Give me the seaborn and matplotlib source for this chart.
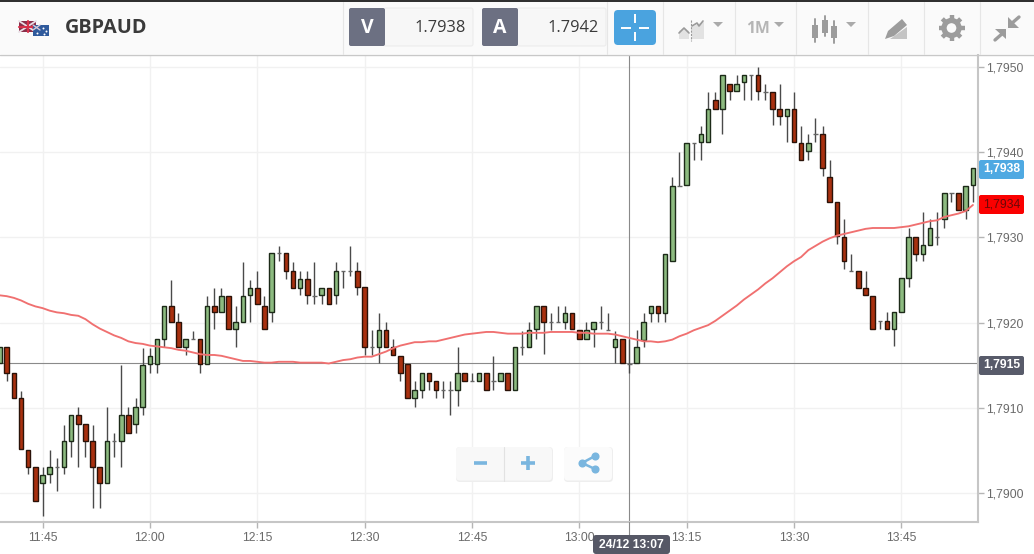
import numpy as np
import pandas as pd
import matplotlib
matplotlib.use("Agg")
import matplotlib.pyplot as plt
import seaborn as sns
from matplotlib.patches import Rectangle, FancyBboxPatch, Circle, Polygon

# candles, one per minute, minute 0 is 11:45
first_minute = -6
opens = [
    1.79152, 1.79171, 1.79141, 1.79112, 1.79051, 1.79031, 1.79012, 1.79022, 1.79031, 1.79031,
    1.79061, 1.79091, 1.79081, 1.79061, 1.79031, 1.79012, 1.79061, 1.79061, 1.79091, 1.79081,
    1.79101, 1.79151, 1.79151, 1.79181, 1.79220, 1.79201, 1.79171, 1.79181, 1.79181, 1.79151,
    1.79220, 1.79212, 1.79231, 1.79192, 1.79201, 1.79232, 1.79241, 1.79220, 1.79212, 1.79282,
    1.79282, 1.79260, 1.79241, 1.79251, 1.79231, 1.79232, 1.79241, 1.79232, 1.79261, 1.79261,
    1.79260, 1.79242, 1.79171, 1.79171, 1.79191, 1.79171, 1.79161, 1.79151, 1.79112, 1.79121,
    1.79141, 1.79131, 1.79121, 1.79121, 1.79121, 1.79141, 1.79131, 1.79131, 1.79141, 1.79131,
    1.79131, 1.79141, 1.79121, 1.79171, 1.79171, 1.79192, 1.79220, 1.79201, 1.79201, 1.79201,
    1.79211, 1.79191, 1.79181, 1.79192, 1.79201, 1.79191, 1.79171, 1.79181, 1.79151, 1.79152,
    1.79180, 1.79211, 1.79220, 1.79211, 1.79272, 1.79360, 1.79361, 1.79411, 1.79412, 1.79412,
    1.79461, 1.79451, 1.79480, 1.79472, 1.79482, 1.79491, 1.79491, 1.79471, 1.79471, 1.79451,
    1.79442, 1.79451, 1.79411, 1.79401, 1.79421, 1.79421, 1.79371, 1.79341, 1.79301, 1.79261,
    1.79261, 1.79241, 1.79231, 1.79202, 1.79202, 1.79192, 1.79212, 1.79252, 1.79301, 1.79281,
    1.79291, 1.79301, 1.79321, 1.79352, 1.79352, 1.79332, 1.79361,
]
highs = [
    1.79171, 1.79171, 1.79141, 1.79120, 1.79051, 1.79031, 1.79031, 1.79051, 1.79041, 1.79080,
    1.79091, 1.79101, 1.79081, 1.79080, 1.79031, 1.79101, 1.79071, 1.79150, 1.79101, 1.79111,
    1.79170, 1.79170, 1.79181, 1.79220, 1.79250, 1.79211, 1.79181, 1.79190, 1.79181, 1.79231,
    1.79241, 1.79241, 1.79231, 1.79220, 1.79271, 1.79250, 1.79260, 1.79231, 1.79282, 1.79290,
    1.79282, 1.79271, 1.79260, 1.79260, 1.79271, 1.79241, 1.79241, 1.79271, 1.79261, 1.79290,
    1.79271, 1.79242, 1.79191, 1.79211, 1.79201, 1.79181, 1.79161, 1.79151, 1.79131, 1.79141,
    1.79141, 1.79131, 1.79131, 1.79131, 1.79171, 1.79141, 1.79141, 1.79141, 1.79141, 1.79161,
    1.79141, 1.79141, 1.79171, 1.79190, 1.79201, 1.79220, 1.79220, 1.79211, 1.79220, 1.79220,
    1.79211, 1.79191, 1.79201, 1.79201, 1.79220, 1.79211, 1.79190, 1.79181, 1.79181, 1.79191,
    1.79211, 1.79220, 1.79220, 1.79281, 1.79371, 1.79400, 1.79411, 1.79411, 1.79431, 1.79471,
    1.79471, 1.79491, 1.79480, 1.79491, 1.79491, 1.79491, 1.79500, 1.79480, 1.79471, 1.79480,
    1.79451, 1.79471, 1.79431, 1.79421, 1.79440, 1.79431, 1.79391, 1.79341, 1.79321, 1.79281,
    1.79261, 1.79261, 1.79231, 1.79202, 1.79212, 1.79212, 1.79252, 1.79311, 1.79301, 1.79330,
    1.79321, 1.79330, 1.79352, 1.79352, 1.79352, 1.79360, 1.79381,
]
lows = [
    1.79152, 1.79131, 1.79112, 1.79052, 1.79022, 1.78991, 1.78973, 1.79012, 1.79002, 1.79022,
    1.79042, 1.79031, 1.79042, 1.78982, 1.78982, 1.79012, 1.79042, 1.79031, 1.79071, 1.79071,
    1.79092, 1.79141, 1.79141, 1.79171, 1.79201, 1.79171, 1.79162, 1.79181, 1.79141, 1.79151,
    1.79192, 1.79212, 1.79192, 1.79171, 1.79201, 1.79201, 1.79222, 1.79192, 1.79201, 1.79272,
    1.79251, 1.79241, 1.79232, 1.79222, 1.79222, 1.79222, 1.79222, 1.79222, 1.79241, 1.79255,
    1.79232, 1.79162, 1.79162, 1.79152, 1.79171, 1.79162, 1.79131, 1.79112, 1.79101, 1.79112,
    1.79121, 1.79112, 1.79112, 1.79092, 1.79102, 1.79131, 1.79131, 1.79131, 1.79121, 1.79121,
    1.79131, 1.79121, 1.79121, 1.79162, 1.79171, 1.79181, 1.79163, 1.79191, 1.79201, 1.79192,
    1.79192, 1.79191, 1.79181, 1.79171, 1.79192, 1.79191, 1.79152, 1.79152, 1.79141, 1.79152,
    1.79171, 1.79201, 1.79201, 1.79201, 1.79272, 1.79360, 1.79361, 1.79391, 1.79391, 1.79412,
    1.79451, 1.79421, 1.79461, 1.79472, 1.79461, 1.79461, 1.79461, 1.79461, 1.79432, 1.79432,
    1.79412, 1.79412, 1.79391, 1.79391, 1.79412, 1.79372, 1.79342, 1.79292, 1.79263, 1.79261,
    1.79241, 1.79232, 1.79192, 1.79192, 1.79192, 1.79172, 1.79212, 1.79242, 1.79272, 1.79272,
    1.79291, 1.79291, 1.79311, 1.79342, 1.79332, 1.79322, 1.79342,
]
closes = [
    1.79171, 1.79141, 1.79112, 1.79052, 1.79031, 1.78991, 1.79021, 1.79031, 1.79031, 1.79061,
    1.79091, 1.79081, 1.79061, 1.79031, 1.79012, 1.79061, 1.79061, 1.79091, 1.79071, 1.79101,
    1.79150, 1.79161, 1.79181, 1.79220, 1.79201, 1.79171, 1.79181, 1.79181, 1.79151, 1.79220,
    1.79212, 1.79231, 1.79192, 1.79201, 1.79231, 1.79241, 1.79222, 1.79192, 1.79282, 1.79282,
    1.79261, 1.79241, 1.79251, 1.79232, 1.79231, 1.79241, 1.79222, 1.79260, 1.79261, 1.79261,
    1.79242, 1.79171, 1.79171, 1.79191, 1.79171, 1.79162, 1.79141, 1.79112, 1.79121, 1.79141,
    1.79131, 1.79121, 1.79121, 1.79121, 1.79141, 1.79131, 1.79131, 1.79141, 1.79121, 1.79131,
    1.79141, 1.79121, 1.79171, 1.79171, 1.79191, 1.79220, 1.79201, 1.79201, 1.79201, 1.79211,
    1.79192, 1.79181, 1.79191, 1.79201, 1.79201, 1.79191, 1.79181, 1.79152, 1.79151, 1.79171,
    1.79201, 1.79220, 1.79211, 1.79281, 1.79360, 1.79360, 1.79411, 1.79411, 1.79421, 1.79451,
    1.79451, 1.79491, 1.79472, 1.79480, 1.79491, 1.79491, 1.79472, 1.79471, 1.79451, 1.79442,
    1.79451, 1.79412, 1.79391, 1.79411, 1.79421, 1.79381, 1.79342, 1.79302, 1.79272, 1.79261,
    1.79241, 1.79232, 1.79192, 1.79202, 1.79192, 1.79212, 1.79252, 1.79301, 1.79281, 1.79291,
    1.79311, 1.79301, 1.79352, 1.79352, 1.79332, 1.79360, 1.79381,
]

# moving average, one value per candle
ma_values = [
    1.79232, 1.79231, 1.79229, 1.79226, 1.79222, 1.79219, 1.79217, 1.79214, 1.79212, 1.79211,
    1.79209, 1.79208, 1.79204, 1.79198, 1.79193, 1.79189, 1.79185, 1.79182, 1.79178, 1.79176,
    1.79175, 1.79173, 1.79172, 1.79171, 1.79170, 1.79168, 1.79167, 1.79165, 1.79163, 1.79162,
    1.79162, 1.79161, 1.79159, 1.79157, 1.79155, 1.79155, 1.79154, 1.79153, 1.79153, 1.79154,
    1.79154, 1.79154, 1.79153, 1.79153, 1.79153, 1.79153, 1.79152, 1.79154, 1.79156, 1.79157,
    1.79159, 1.79160, 1.79160, 1.79163, 1.79166, 1.79170, 1.79173, 1.79175, 1.79177, 1.79177,
    1.79178, 1.79178, 1.79180, 1.79182, 1.79184, 1.79186, 1.79187, 1.79188, 1.79189, 1.79189,
    1.79188, 1.79187, 1.79187, 1.79187, 1.79188, 1.79188, 1.79188, 1.79189, 1.79189, 1.79189,
    1.79189, 1.79188, 1.79188, 1.79187, 1.79187, 1.79187, 1.79186, 1.79184, 1.79182, 1.79180,
    1.79178, 1.79178, 1.79177, 1.79178, 1.79180, 1.79184, 1.79187, 1.79191, 1.79194, 1.79197,
    1.79202, 1.79208, 1.79214, 1.79220, 1.79227, 1.79233, 1.79239, 1.79246, 1.79252, 1.79259,
    1.79266, 1.79272, 1.79277, 1.79285, 1.79290, 1.79295, 1.79299, 1.79302, 1.79304, 1.79306,
    1.79308, 1.79310, 1.79311, 1.79311, 1.79311, 1.79311, 1.79312, 1.79313, 1.79315, 1.79317,
    1.79319, 1.79320, 1.79324, 1.79326, 1.79328, 1.79331, 1.79338,
]

x_ticks = [0, 15, 30, 45, 60, 75, 90, 105, 120]
x_labels = ["11:45", "12:00", "12:15", "12:30", "12:45", "13:00", "13:15", "13:30", "13:45"]
y_ticks = [1.7900, 1.7910, 1.7920, 1.7930, 1.7940, 1.7950]
y_labels = ["1,7900", "1,7910", "1,7920", "1,7930", "1,7940", "1,7950"]

bid_price = 1.7938
ask_price = 1.7942
ma_last = 1.7934
cross_price = 1.79152
cross_minute = 82

sns.set_theme(style="white")
plt.rcParams["font.family"] = ["Liberation Sans", "DejaVu Sans"]

df = pd.DataFrame({"open": opens, "high": highs, "low": lows, "close": closes, "ma": ma_values})
df["minute"] = np.arange(len(df)) + first_minute

W, H = 1034, 554
fig = plt.figure(figsize=(W / 100, H / 100), dpi=100, facecolor="white")
ax = fig.add_axes([0, (H - 522) / H, 978 / W, (522 - 55) / H])

GREEN = "#8dbb80"
RED = "#a8300f"

# wicks, bodies and the flat candles
ax.vlines(df["minute"], df["low"], df["high"], color="#4a4a4a", lw=1.0, zorder=3)
flat = df["open"] == df["close"]
up = (df["close"] > df["open"]) & ~flat
down = (df["close"] < df["open"]) & ~flat
ax.bar(df["minute"][up], (df["close"] - df["open"])[up], bottom=df["open"][up], width=0.64,
       color=GREEN, edgecolor="#1c2a18", linewidth=1.0, zorder=4)
ax.bar(df["minute"][down], (df["open"] - df["close"])[down], bottom=df["close"][down], width=0.64,
       color=RED, edgecolor="#2a1208", linewidth=1.0, zorder=4)
ax.hlines(df["close"][flat], df["minute"][flat] - 0.3, df["minute"][flat] + 0.3,
          color="#666666", lw=1.0, zorder=4)

sns.lineplot(data=df, x="minute", y="ma", ax=ax, color="#f07070", lw=1.35, zorder=5)

ax.axhline(cross_price, color="#8a8a8a", lw=0.8, zorder=2)
ax.axvline(cross_minute, color="#8a8a8a", lw=0.8, zorder=2)

ax.set_xlim(-5.94, 130.71)
ax.set_ylim(1.78966, 1.79514)
ax.set_xticks(x_ticks)
ax.set_xticklabels(x_labels)
ax.set_yticks(y_ticks)
ax.set_yticklabels(y_labels)
ax.yaxis.tick_right()
ax.set_xlabel("")
ax.set_ylabel("")
ax.grid(True, color="#f1f1f1", lw=1.0, zorder=0)
ax.set_axisbelow(True)
ax.tick_params(axis="both", length=4, width=1, color="#b5b5b5", labelcolor="#6a6a6a",
               labelsize=8.7, bottom=True, right=True)
ax.tick_params(axis="y", pad=1.5)
ax.tick_params(axis="x", pad=3)
for side in ["top", "left"]:
    ax.spines[side].set_visible(False)
for side in ["right", "bottom"]:
    ax.spines[side].set_color("#c6c6c6")
    ax.spines[side].set_linewidth(1.5)

# everything around the chart, in pixel coordinates
ui = fig.add_axes([0, 0, 1, 1], zorder=10)
ui.set_xlim(0, W)
ui.set_ylim(H, 0)
ui.axis("off")
ui.patch.set_alpha(0)

ui.add_patch(Rectangle((0, 0), W, 54, fc="#fafafa", ec="none"))
ui.add_patch(Rectangle((0, 0), W, 2, fc="#303030", ec="none"))
ui.plot([0, W], [54.5, 54.5], color="#c8c8c8", lw=1)
for sx in [342.5, 606.5, 662.5, 734.5, 795.5, 867.5, 923.5, 979.5]:
    ui.plot([sx, sx], [2, 54], color="#e6e6e6", lw=0.8)


def box(x0, y0, w, h, color, r=2, z=11, edge="none"):
    ui.add_patch(FancyBboxPatch((x0 + r, y0 + r), w - 2 * r, h - 2 * r,
                                boxstyle=f"round,pad={r},rounding_size={r}",
                                fc=color, ec=edge, lw=0.8, zorder=z))


# flags
ui.add_patch(Rectangle((19, 21), 17, 11, fc="#8a2f4a", ec="none", zorder=11))
ui.plot([19, 36], [21, 32], color="#e8dfe6", lw=1.3, zorder=11)
ui.plot([19, 36], [32, 21], color="#e8dfe6", lw=1.3, zorder=11)
ui.plot([27.5, 27.5], [21, 32], color="#d8304a", lw=1.5, zorder=11)
ui.plot([19, 36], [26.5, 26.5], color="#d8304a", lw=1.5, zorder=11)
ui.add_patch(Rectangle((33, 25), 16, 11, fc="#2f5a9c", ec="none", zorder=12))
ui.plot([33, 40], [25, 30], color="#d9c8d4", lw=1, zorder=12)
ui.plot([33, 40], [30, 25], color="#d9c8d4", lw=1, zorder=12)
ui.scatter([37, 43, 46, 44], [33, 28, 31, 34], s=2, color="white", zorder=12, lw=0)

ui.text(65, 28, "GBPAUD", fontsize=14.3, fontweight="bold", color="#3a3a3a", family="Open Sans",
        va="center", ha="left", zorder=12)

# bid / ask boxes
box(384, 8, 89, 38, "#f7f7f7", edge="#ececec")
box(349, 8, 36, 38, "#6c7082")
ui.text(367, 28, "V", fontsize=14, fontweight="bold", color="white", family="Open Sans",
        ha="center", va="center", zorder=12)
ui.text(465.5, 27.5, f"{bid_price:.4f}", fontsize=11.8, color="#3a3a3a", family="Open Sans",
        ha="right", va="center", zorder=12)
box(517, 8, 89, 38, "#f7f7f7", edge="#ececec")
box(482, 8, 36, 38, "#6c7082")
ui.text(500, 28, "A", fontsize=14, fontweight="bold", color="white", family="Open Sans",
        ha="center", va="center", zorder=12)
ui.text(598.5, 27.5, f"{ask_price:.4f}", fontsize=11.8, color="#3a3a3a", family="Open Sans",
        ha="right", va="center", zorder=12)

# crosshair button
box(614, 10, 42, 35, "#4aa3df", r=4)
for xs, ys in [([621, 631], [27.5, 27.5]), ([639, 649], [27.5, 27.5]),
               ([635, 635], [14, 23]), ([635, 635], [32, 41])]:
    ui.plot(xs, ys, color="white", lw=1.4, zorder=12, solid_capstyle="butt")

DARK_ICON = "#9c9c9c"


def caret(cx, cy, w=9, color="#aaaaaa"):
    ui.add_patch(Polygon([(cx - w / 2, cy - 2.5), (cx + w / 2, cy - 2.5), (cx, cy + 2.5)],
                         fc=color, ec="none", zorder=12))


# chart type icon
ui.add_patch(Polygon([(679, 39), (679, 31), (684, 28), (689, 31), (689, 39)], fc="#e2e2e2", ec="none", zorder=12))
ui.add_patch(Polygon([(692, 39), (692, 27), (698, 24), (704, 22), (704, 39)], fc="#e2e2e2", ec="none", zorder=12))
ui.plot([679, 684, 689], [33, 28, 33], color="#9a9a9a", lw=1.2, zorder=13)
ui.plot([692, 697, 699, 703], [26, 23, 26, 21], color="#9a9a9a", lw=1.2, zorder=13)
ui.plot([690.5, 690.5], [20, 41], color="#9a9a9a", lw=0.8, ls=(0, (2, 1)), zorder=13)
caret(718, 24.5, 10)

ui.text(746, 29, "1M", fontsize=11.3, fontweight="bold", color="#b5b5b5", family="Open Sans",
        ha="left", va="center", zorder=12)
caret(779, 24.5, 10)

# candle icon
for cx, top, bot, y0, y1 in [(815, 19, 42, 25, 38), (825, 16, 36, 20, 33), (834, 21, 43, 26, 38)]:
    ui.plot([cx, cx], [top, bot], color=DARK_ICON, lw=1.4, zorder=12)
    ui.add_patch(Rectangle((cx - 3, y0), 6, y1 - y0, fc=DARK_ICON, ec="none", zorder=12))
caret(851, 24.5, 10)

# drawing tool icon
ui.add_patch(Polygon([(890, 39), (907, 39), (907, 27)], fc="#c4c4c4", ec="none", zorder=12))
ui.add_patch(Polygon([(888, 31), (902, 19), (907, 25), (894, 36), (885, 39)], fc="#9c9c9c", ec="none", zorder=13))

# gear
ui.add_patch(Circle((951.5, 28), 7.5, fc="none", ec=DARK_ICON, lw=3.8, zorder=12))
for ang in np.arange(0, 360, 45):
    ca, sa = np.cos(np.radians(ang)), np.sin(np.radians(ang))
    ui.plot([951.5 + 8 * ca, 951.5 + 13 * ca], [28 + 8 * sa, 28 + 13 * sa], color=DARK_ICON,
            lw=3.2, zorder=12, solid_capstyle="butt")

# collapse arrows, both pointing at the middle
ui.add_patch(Polygon([(1008, 17), (1008, 28), (1019, 28)], fc=DARK_ICON, ec="none", zorder=12))
ui.plot([1011, 1019], [24, 17], color=DARK_ICON, lw=2.4, zorder=12)
ui.add_patch(Polygon([(995, 29), (1006, 29), (1006, 39)], fc=DARK_ICON, ec="none", zorder=12))
ui.plot([1003, 995], [33, 40], color=DARK_ICON, lw=2.4, zorder=12)

# price tags on the right
box(979, 160, 45, 19, "#4fa9e2")
ui.text(1001.5, 169.5, "1,7938", fontsize=8.7, fontweight="bold", color="white", ha="center", va="center", zorder=12)
box(979, 195, 45, 19, "#fa0000")
ui.text(1001.5, 204.5, f"{ma_last:.4f}".replace(".", ","), fontsize=8.7, color="#6b0808", ha="center", va="center", zorder=12)
box(979, 356, 45, 19, "#585b6a")
ui.text(1001.5, 365.5, "1,7915", fontsize=8.7, fontweight="bold", color="white", ha="center", va="center", zorder=12)

# zoom and share buttons
box(456, 447, 97, 35, "#eeeeee", r=4, z=11)
box(456, 447, 96, 33.5, "#f8f8f8", r=4, z=11)
box(564, 447, 49, 35, "#eeeeee", r=4, z=11)
box(564, 447, 48, 33.5, "#fbfbfb", r=4, z=11)
ui.plot([503.5, 503.5], [447, 481], color="#e2e2e2", lw=0.8, zorder=12)
ui.plot([474, 487], [463, 463], color="#7ab6df", lw=2.6, zorder=12, solid_capstyle="butt")
ui.plot([521, 535], [463, 463], color="#7ab6df", lw=2.6, zorder=12, solid_capstyle="butt")
ui.plot([528, 528], [456, 470], color="#7ab6df", lw=2.6, zorder=12, solid_capstyle="butt")
ui.plot([595, 582, 595], [456, 463, 469], color="#7ab6df", lw=1.8, zorder=12)
ui.scatter([595, 582, 595], [456, 463, 469], s=34, color="#7ab6df", zorder=13, lw=0)

# date tag under the crosshair
ui.plot([629.4, 629.4], [522, 535], color="#8a8a8a", lw=0.8, zorder=11)
box(593, 535, 77, 19, "#565866", r=3)
ui.text(631, 544.5, "24/12 13:07", fontsize=8.7, fontweight="bold", color="white", ha="center", va="center", zorder=12)

fig.savefig("out.png", dpi=100)
